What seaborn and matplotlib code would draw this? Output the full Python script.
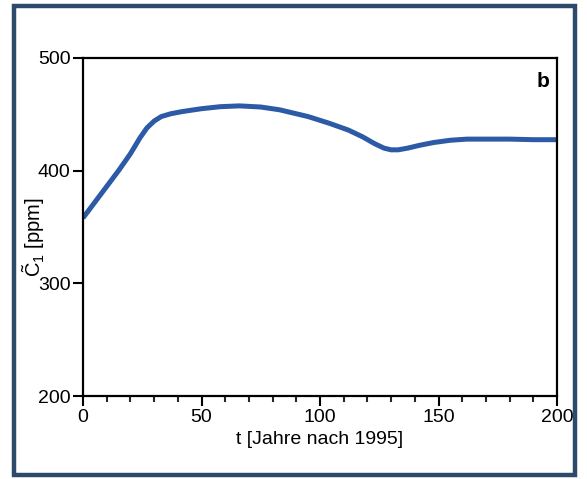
import matplotlib
matplotlib.use("Agg")
import matplotlib.pyplot as plt
import seaborn as sns
import pandas as pd
from matplotlib.patches import Rectangle
from matplotlib.ticker import MultipleLocator

# Data
t_years = [0, 5, 10, 15, 20, 24, 27, 30, 33, 37, 42, 50, 58, 66, 75, 83, 95, 104, 112, 118, 123, 127, 130, 133, 137, 142, 148, 155, 162, 170, 180, 190, 200]
c1_ppm = [358, 372, 386, 400, 415, 429, 438, 444, 448, 450.5, 452.5, 455, 456.8, 457.5, 456.5, 454, 448, 442, 436, 430, 424, 420, 418.5, 418.5, 420, 422.5, 425, 427, 428, 428, 428, 427.5, 427.5]

df = pd.DataFrame({"t": t_years, "C1": c1_ppm})

sns.set_theme(style="ticks")
plt.rcParams['font.family'] = ['Liberation Sans', 'DejaVu Sans']
plt.rcParams['mathtext.fontset'] = 'custom'
plt.rcParams['mathtext.rm'] = 'Liberation Sans'
plt.rcParams['mathtext.it'] = 'Liberation Sans:italic'

fig = plt.figure(figsize=(5.87, 4.79), dpi=100)
ax = fig.add_axes([83/587, 1-396/479, (557-83)/587, (396-58)/479])

sns.lineplot(data=df, x="t", y="C1", ax=ax, color="#2d5aa6", linewidth=3.6,
             solid_capstyle="butt")

ax.set_xlim(0, 200)
ax.set_ylim(200, 500)
ax.xaxis.set_major_locator(MultipleLocator(50))
ax.xaxis.set_minor_locator(MultipleLocator(10))
ax.yaxis.set_major_locator(MultipleLocator(100))
ax.tick_params(axis="both", which="major", direction="out", length=7, width=1.5,
               labelsize=14, colors="black", labelcolor="black", pad=2)
ax.tick_params(axis="x", which="minor", direction="out", length=4, width=1.5)
for s in ax.spines.values():
    s.set_linewidth(1.6)
    s.set_color("black")

ax.set_xlabel("t [Jahre nach 1995]", fontsize=14, labelpad=4, color="black")
ax.set_ylabel(r"$\tilde{\mathrm{C}}_1$ [ppm]", fontsize=14.5, color="black")
ax.yaxis.set_label_coords(-0.075, 0.47)
ax.text(0.985, 0.93, "b", transform=ax.transAxes, ha="right", va="center",
        fontsize=15, fontweight="bold", color="black")

# outer frame of the figure panel
fig.patches.append(Rectangle((14/587, 1-475/479), (575-14)/587, (475-6)/479,
                             transform=fig.transFigure, fill=False,
                             edgecolor="#2e4a6a", linewidth=3.2))

fig.savefig("out.png", dpi=100)
